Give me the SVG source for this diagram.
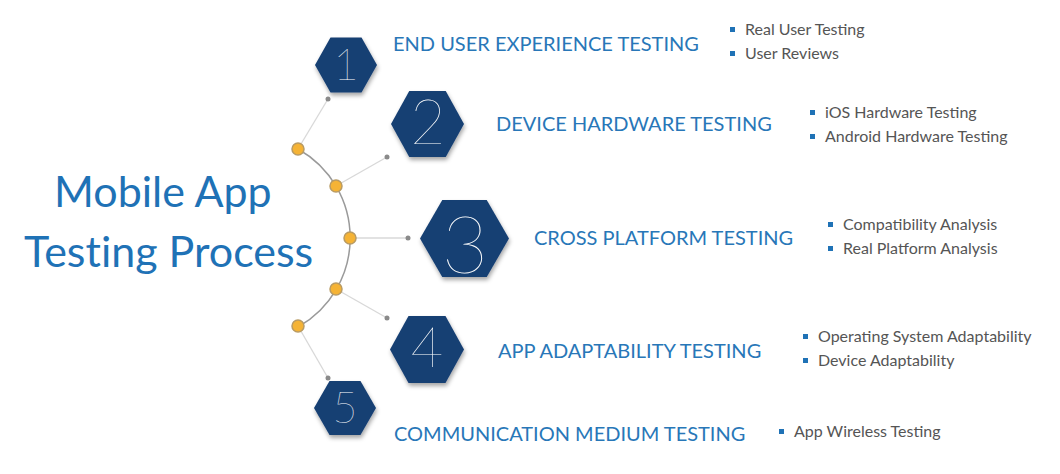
<svg xmlns="http://www.w3.org/2000/svg" width="1060" height="474" viewBox="0 0 1060 474">
<style>
.title{font-family:Lato,"Open Sans",sans-serif;font-size:43px;fill:#1f72b6;font-variant-ligatures:none}
.head{font-family:Lato,"Open Sans",sans-serif;font-size:20px;fill:#2877b8}
.item{font-family:Lato,"Open Sans",sans-serif;font-size:16px;fill:#555}
.num{font-family:Lato,"Open Sans",sans-serif;font-weight:100;fill:#fff;text-anchor:middle}
.hex{fill:#173f73;filter:url(#sh)}
.bul{fill:#1f72b6}
.link{stroke:#d8d8d8;stroke-width:1.3;fill:none}
.gdot{fill:#8a8a8a}
.ydot{fill:#f5b335;stroke:#b99b63;stroke-width:1.5}
</style>
<defs>
<filter id="sh" x="-20%" y="-20%" width="150%" height="150%">
<feDropShadow dx="1" dy="3" stdDeviation="2" flood-color="#000" flood-opacity="0.35"/>
</filter>
</defs>
<rect width="1060" height="474" fill="#fff"/>
<g id="title">
<text class="title" x="54" y="207">Mobile App</text>
<text class="title" x="24" y="267">Testing Process</text>
</g>
<g id="connectors">
<path d="M298,149 A102,102 0 0 1 298,327" stroke="#9a9a9a" stroke-width="1.5" fill="none"/>
<line class="link" x1="298" y1="149" x2="328" y2="99"/>
<line class="link" x1="336" y1="186" x2="387" y2="157"/>
<line class="link" x1="350" y1="238" x2="408" y2="238"/>
<line class="link" x1="336" y1="289" x2="387" y2="318"/>
<line class="link" x1="298" y1="326" x2="328" y2="378"/>
<circle class="gdot" cx="328" cy="99" r="2.5"/>
<circle class="gdot" cx="387" cy="157" r="2.5"/>
<circle class="gdot" cx="408" cy="238" r="2.5"/>
<circle class="gdot" cx="387" cy="318" r="2.5"/>
<circle class="gdot" cx="328" cy="378" r="2.5"/>
<circle class="ydot" cx="298" cy="149" r="6"/>
<circle class="ydot" cx="336" cy="186" r="6"/>
<circle class="ydot" cx="350" cy="238" r="6"/>
<circle class="ydot" cx="336" cy="289" r="6"/>
<circle class="ydot" cx="298" cy="326" r="6"/>
</g>
<g id="node1">
<polygon class="hex" points="315,65 330.5,37.5 361.5,37.5 377,65 361.5,92.5 330.5,92.5"/>
<text class="num" x="346" y="80" font-size="44">1</text>
<text class="head" x="393" y="51">END USER EXPERIENCE TESTING</text>
<rect class="bul" x="730" y="27" width="5" height="5"/>
<text class="item" x="745" y="35">Real User Testing</text>
<rect class="bul" x="730" y="51" width="5" height="5"/>
<text class="item" x="745" y="59">User Reviews</text>
</g>
<g id="node2">
<polygon class="hex" points="391,124 409.25,91 445.75,91 464,124 445.75,157 409.25,157"/>
<text class="num" x="428" y="144" font-size="61">2</text>
<text class="head" x="496" y="131">DEVICE HARDWARE TESTING</text>
<rect class="bul" x="810" y="110" width="5" height="5"/>
<text class="item" x="825" y="118">iOS Hardware Testing</text>
<rect class="bul" x="810" y="134" width="5" height="5"/>
<text class="item" x="825" y="142">Android Hardware Testing</text>
</g>
<g id="node3">
<polygon class="hex" points="420,238.5 442.25,200 486.75,200 509,238.5 486.75,277 442.25,277"/>
<text class="num" x="465" y="273" font-size="80">3</text>
<text class="head" x="534" y="245">CROSS PLATFORM TESTING</text>
<rect class="bul" x="828" y="222" width="5" height="5"/>
<text class="item" x="843" y="230">Compatibility Analysis</text>
<rect class="bul" x="828" y="246" width="5" height="5"/>
<text class="item" x="843" y="254">Real Platform Analysis</text>
</g>
<g id="node4">
<polygon class="hex" points="390,349.5 408.5,316 445.5,316 464,349.5 445.5,383 408.5,383"/>
<text class="num" x="427" y="367" font-size="56">4</text>
<text class="head" x="498" y="358">APP ADAPTABILITY TESTING</text>
<rect class="bul" x="803" y="334" width="5" height="5"/>
<text class="item" x="818" y="342">Operating System Adaptability</text>
<rect class="bul" x="803" y="358" width="5" height="5"/>
<text class="item" x="818" y="366">Device Adaptability</text>
</g>
<g id="node5">
<polygon class="hex" points="314,408 329.5,381 360.5,381 376,408 360.5,435 329.5,435"/>
<text class="num" x="345" y="423" font-size="43">5</text>
<text class="head" x="394" y="441">COMMUNICATION MEDIUM TESTING</text>
<rect class="bul" x="779" y="429" width="5" height="5"/>
<text class="item" x="794" y="437">App Wireless Testing</text>
</g>
</svg>
